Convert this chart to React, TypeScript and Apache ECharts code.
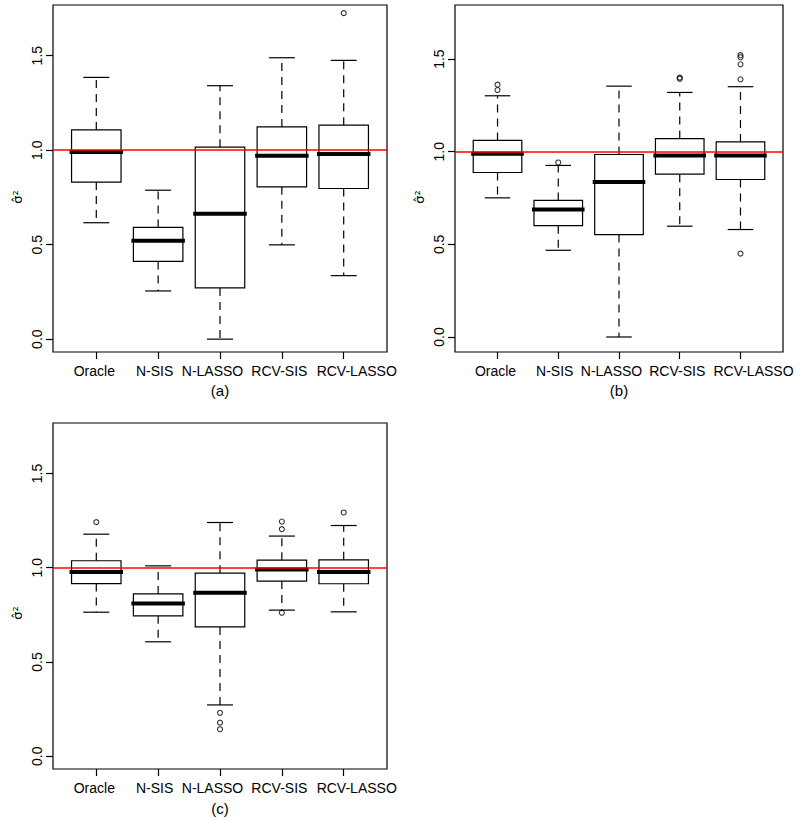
import React, { useEffect, useRef } from "react";
import * as echarts from "echarts";

const categories = ["Oracle", "N-SIS", "N-LASSO", "RCV-SIS", "RCV-LASSO"];
const yTicks = [0, 0.5, 1.0, 1.5];
const panelLabels = ["(a)", "(b)", "(c)"];
const refValue = 1.0;

// [lower whisker, Q1, median, Q3, upper whisker]
const boxesA = [
  [0.616, 0.831, 0.99, 1.107, 1.385],
  [0.255, 0.411, 0.521, 0.591, 0.788],
  [0.0, 0.271, 0.664, 1.016, 1.341],
  [0.499, 0.806, 0.97, 1.123, 1.489],
  [0.336, 0.797, 0.979, 1.132, 1.475],
];
const outliersA = [[], [], [], [], [1.725]];

const boxesB = [
  [0.751, 0.888, 0.989, 1.061, 1.302],
  [0.468, 0.601, 0.688, 0.737, 0.926],
  [0.0, 0.553, 0.837, 0.985, 1.354],
  [0.598, 0.879, 0.98, 1.071, 1.32],
  [0.58, 0.85, 0.98, 1.053, 1.351],
];
const outliersB = [[1.362, 1.333], [0.942], [], [1.4, 1.394], [1.521, 1.51, 1.472, 1.391, 0.45]];

const boxesC = [
  [0.764, 0.916, 0.978, 1.037, 1.178],
  [0.607, 0.745, 0.81, 0.861, 1.01],
  [0.272, 0.686, 0.867, 0.971, 1.24],
  [0.775, 0.929, 0.991, 1.04, 1.168],
  [0.766, 0.915, 0.978, 1.042, 1.224],
];
const outliersC = [[1.242], [], [0.23, 0.178, 0.143], [1.245, 1.205, 0.761], [1.293]];

const FONT = "'Liberation Sans', Arial, Helvetica, sans-serif";

const X_MIN = 0.3;
const X_MAX = 5.7;
// horizontal nudge (px) of each category label, as in the reference layout
const labelShift = [-2, -3.5, -7.5, -2.5, 13];

const panels = [
  { boxes: boxesA, outliers: outliersA, grid: { left: 53, top: 5, width: 334, height: 347 }, yMin: -0.068, yMax: 1.768, label: { x: 220, y: 390 }, ylab: { x: 17, y: 197 } },
  { boxes: boxesB, outliers: outliersB, grid: { left: 455, top: 5, width: 328, height: 347 }, yMin: -0.081, yMax: 1.792, label: { x: 619, y: 390 }, ylab: { x: 419, y: 197 } },
  { boxes: boxesC, outliers: outliersC, grid: { left: 53, top: 423, width: 334, height: 346 }, yMin: -0.068, yMax: 1.768, label: { x: 220, y: 808 }, ylab: { x: 17, y: 613 } },
];

const catPos = categories.map((_, i) => i + 1);

function renderBox(params: any, api: any) {
  const x = api.value(0);
  const lo = api.value(1);
  const q1 = api.value(2);
  const med = api.value(3);
  const q3 = api.value(4);
  const hi = api.value(5);
  const half = api.size([0.8, 0])[0] / 2;
  const staple = api.size([0.42, 0])[0] / 2;
  const pLo = api.coord([x, lo]);
  const pQ1 = api.coord([x, q1]);
  const pMed = api.coord([x, med]);
  const pQ3 = api.coord([x, q3]);
  const pHi = api.coord([x, hi]);
  const cx = pLo[0];
  const stroke = "#000";
  const lw = 1.2;
  return {
    type: "group",
    children: [
      { type: "line", shape: { x1: cx, y1: pQ3[1], x2: cx, y2: pHi[1] }, style: { stroke, lineWidth: lw, lineDash: [8, 6] } },
      { type: "line", shape: { x1: cx, y1: pQ1[1], x2: cx, y2: pLo[1] }, style: { stroke, lineWidth: lw, lineDash: [8, 6] } },
      { type: "line", shape: { x1: cx - staple, y1: pHi[1], x2: cx + staple, y2: pHi[1] }, style: { stroke, lineWidth: lw } },
      { type: "line", shape: { x1: cx - staple, y1: pLo[1], x2: cx + staple, y2: pLo[1] }, style: { stroke, lineWidth: lw } },
      { type: "rect", shape: { x: cx - half, y: pQ3[1], width: half * 2, height: pQ1[1] - pQ3[1] }, style: { stroke, lineWidth: lw, fill: "#fff" } },
      { type: "line", shape: { x1: cx - half, y1: pMed[1], x2: cx + half, y2: pMed[1] }, style: { stroke, lineWidth: 4, lineCap: "square" } },
    ],
  };
}

export default function App() {
  const ref = useRef<HTMLDivElement>(null);
  useEffect(() => {
    document.body.style.margin = "0";
    if (!ref.current) return;
    const chart = echarts.init(ref.current, null, { renderer: "svg" });
    const grids: any[] = [];
    const xAxes: any[] = [];
    const yAxes: any[] = [];
    const series: any[] = [];
    const graphics: any[] = [];
    const n = panels.length;
    const rich: any = {};
    labelShift.forEach((s, i) => {
      rich["c" + i] = {
        fontSize: 14,
        color: "#000",
        fontFamily: FONT,
        padding: s < 0 ? [0, -2 * s, 0, 0] : [0, 0, 0, 2 * s],
      };
    });
    panels.forEach((p, k) => {
      grids.push({ ...p.grid, show: true, borderColor: "#000", borderWidth: 1.2, backgroundColor: "transparent", containLabel: false });
      xAxes.push({
        type: "value",
        gridIndex: k,
        position: "bottom",
        min: X_MIN,
        max: X_MAX,
        axisLine: { show: false, onZero: false },
        splitLine: { show: false },
        axisTick: { show: false },
        axisLabel: { show: false },
      });
      yAxes.push({
        type: "value",
        gridIndex: k,
        position: "left",
        min: p.yMin,
        max: p.yMax,
        axisLine: { show: false, onZero: false },
        splitLine: { show: false },
        axisTick: { show: true, length: 7, inside: false, customValues: yTicks, lineStyle: { color: "#000", width: 1.2 } },
        axisLabel: {
          customValues: yTicks,
          rotate: 90,
          margin: 9,
          formatter: (v: number) => v.toFixed(1),
          fontSize: 14,
          color: "#000",
          fontFamily: FONT,
        },
      });
      series.push({
        type: "custom",
        xAxisIndex: k,
        yAxisIndex: k,
        z: 2,
        renderItem: renderBox,
        encode: { x: 0, y: [1, 2, 3, 4, 5] },
        data: p.boxes.map((b, i) => [catPos[i], ...b]),
      });
      series.push({
        type: "scatter",
        xAxisIndex: k,
        yAxisIndex: k,
        z: 3,
        symbol: "circle",
        symbolSize: 5,
        itemStyle: { color: "rgba(255,255,255,0)", borderColor: "#000", borderWidth: 1.1 },
        data: p.outliers.flatMap((arr, i) => arr.map((v) => [catPos[i], v])),
        markLine: {
          silent: true,
          symbol: "none",
          z: 5,
          label: { show: false },
          lineStyle: { color: "#ff0000", type: "solid", width: 1.5 },
          data: [{ yAxis: refValue }],
        },
      });
      graphics.push({
        type: "text",
        x: p.label.x,
        y: p.label.y,
        style: { text: panelLabels[k], font: `15px ${FONT}`, fill: "#000", align: "center", verticalAlign: "middle" },
      });
      graphics.push({
        type: "text",
        x: p.ylab.x,
        y: p.ylab.y,
        rotation: Math.PI / 2,
        style: { text: "σ\u0302²", font: "13px 'DejaVu Sans', sans-serif", fill: "#000", align: "center", verticalAlign: "middle" },
      });
    });
    // Category label axes: a hidden grid spanning exactly the 5 category bands (0.5..5.5)
    panels.forEach((p, k) => {
      const unit = p.grid.width / (X_MAX - X_MIN);
      const gi = n + k;
      grids.push({
        left: p.grid.left + (0.5 - X_MIN) * unit,
        width: categories.length * unit,
        top: p.grid.top,
        height: p.grid.height,
        show: false,
        containLabel: false,
      });
      xAxes.push({
        type: "category",
        gridIndex: gi,
        position: "bottom",
        data: categories,
        boundaryGap: true,
        axisLine: { show: false, onZero: false },
        splitLine: { show: false },
        axisTick: { show: true, alignWithLabel: true, interval: 0, length: 7, inside: false, lineStyle: { color: "#000", width: 1.2 } },
        axisLabel: {
          interval: 0,
          margin: 12,
          fontSize: 14,
          color: "#000",
          fontFamily: FONT,
          hideOverlap: false,
          formatter: (v: string, i: number) => `{c${i}|${v}}`,
          rich,
        },
      });
      yAxes.push({ type: "value", gridIndex: gi, show: false, min: 0, max: 1 });
    });
    chart.setOption({
      animation: false,
      backgroundColor: "#fff",
      grid: grids,
      xAxis: xAxes,
      yAxis: yAxes,
      series,
      graphic: graphics,
    });
    return () => chart.dispose();
  }, []);
  return <div ref={ref} style={{ position: "fixed", left: 0, top: 0, width: 800, height: 822 }} />;
}
